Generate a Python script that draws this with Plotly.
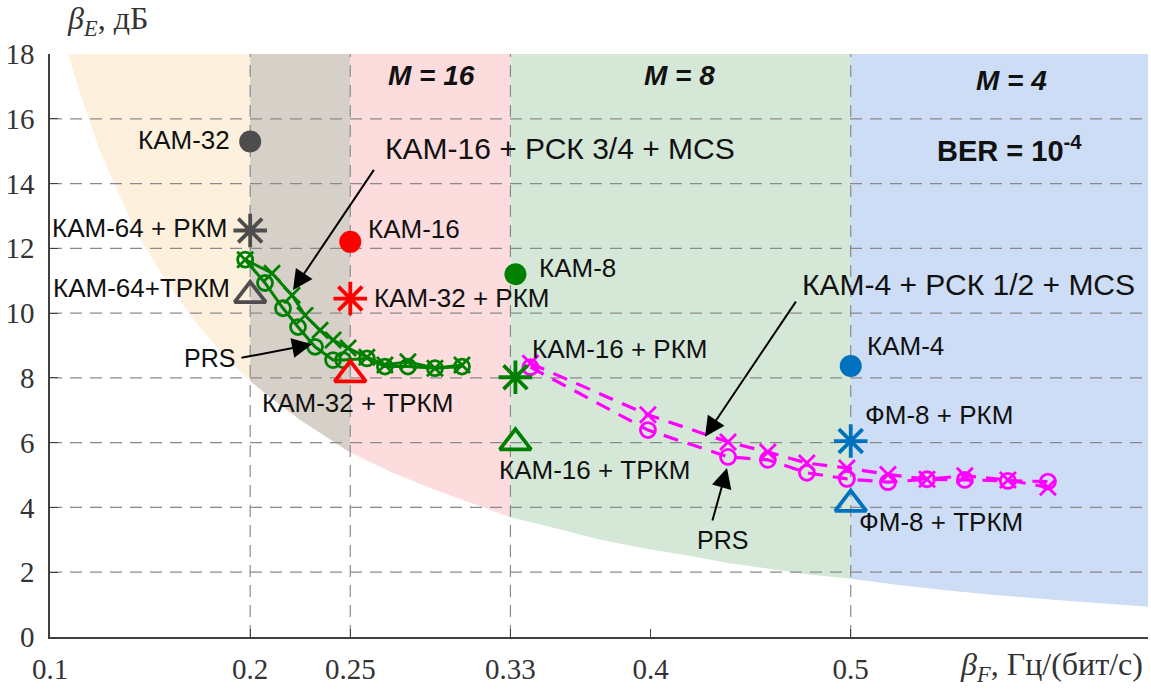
import plotly.graph_objects as go

# ---------------- data ----------------
# lower edge of the shaded area, beta_F vs beta_E (dB)
BOUND_X = [0.109, 0.11, 0.115, 0.12, 0.125, 0.13, 0.135, 0.14, 0.145, 0.15, 0.155, 0.16, 0.165, 0.17, 0.175,
           0.18, 0.185, 0.19, 0.195, 0.20, 0.21, 0.225, 0.24, 0.25, 0.27, 0.29, 0.31, 0.33, 0.35, 0.375,
           0.40, 0.42, 0.44, 0.46, 0.48, 0.50, 0.525, 0.55, 0.575, 0.60, 0.625, 0.65]
BOUND_Y = [18.0, 17.8, 16.8, 15.9, 15.0, 14.3, 13.6, 12.9, 12.3, 11.8, 11.3, 10.8, 10.4, 9.95, 9.55,
           9.2, 8.85, 8.5, 8.2, 7.9, 7.4, 6.7, 6.1, 5.7, 5.1, 4.6, 4.15, 3.7, 3.4, 3.0,
           2.7, 2.5, 2.27, 2.1, 1.92, 1.8, 1.6, 1.43, 1.28, 1.16, 1.04, 0.93]

REGION_EDGES = [0.109, 0.20, 0.25, 0.33, 0.50, 0.65]
REGION_COLORS = ["#fdf0dc", "#d6d0c8", "#fcdcdc", "#d5e8d8", "#ccddf5"]

# green curves (КАМ-16 + РСК 3/4 + MCS)
G_O_X = [0.1975, 0.2074, 0.2164, 0.2239, 0.2324, 0.2414, 0.2464, 0.2583, 0.2673, 0.2788, 0.2923, 0.3058]
G_O_Y = [11.65, 10.93, 10.15, 9.57, 8.96, 8.55, 8.55, 8.60, 8.35, 8.35, 8.30, 8.35]
G_X_X = [0.1975, 0.2109, 0.2209, 0.2274, 0.2349, 0.2414, 0.2489, 0.2583, 0.2673, 0.2788, 0.2923, 0.3058]
G_X_Y = [11.65, 11.23, 10.55, 9.93, 9.47, 9.17, 8.92, 8.64, 8.40, 8.50, 8.30, 8.40]

# magenta curves (КАМ-4 + РСК 1/2 + MCS)
M_X = [0.34, 0.3987, 0.4387, 0.4586, 0.4781, 0.4981, 0.5186, 0.5381, 0.557, 0.5785, 0.5985]
M_O_Y = [8.33, 6.39, 5.56, 5.47, 5.07, 4.88, 4.78, 4.87, 4.85, 4.82, 4.80]
M_X_Y = [8.45, 6.86, 6.02, 5.71, 5.37, 5.22, 5.02, 4.87, 4.98, 4.85, 4.62]

# single points: (x, y, colour, symbol, label, label-x, label-y, anchor)
POINTS = [
    (0.2, 15.3, "#4d4d4d", "circle", "КАМ-32", 0.1909, 15.33, "right"),
    (0.2, 12.55, "#4d4d4d", "asterisk-open", "КАМ-64 + РКМ", 0.1899, 12.62, "right"),
    (0.2, 10.55, "#4d4d4d", "triangle-up-open", "КАМ-64+ТРКМ", 0.1909, 10.77, "right"),
    (0.25, 12.2, "#ff0000", "circle", "КАМ-16", 0.2578, 12.59, "left"),
    (0.25, 10.45, "#ff0000", "asterisk-open", "КАМ-32 + РКМ", 0.2608, 10.46, "left"),
    (0.25, 8.1, "#ff0000", "triangle-up-open", "КАМ-32 + ТРКМ", 0.2049, 7.22, "left"),
    (0.3325, 11.2, "#008000", "circle", "КАМ-8", 0.3433, 11.38, "left"),
    (0.3325, 8.02, "#008000", "asterisk-open", "КАМ-16 + РКМ", 0.3398, 8.89, "left"),
    (0.3325, 6.0, "#008000", "triangle-up-open", "КАМ-16 + ТРКМ", 0.3233, 5.16, "left"),
    (0.5, 8.37, "#0072bd", "circle", "КАМ-4", 0.5071, 8.98, "left"),
    (0.5, 6.05, "#0072bd", "asterisk-open", "ФМ-8 + РКМ", 0.5061, 6.85, "left"),
    (0.5, 4.1, "#0072bd", "triangle-up-open", "ФМ-8 + ТРКМ", 0.5031, 3.55, "left"),
]

X_TICKS = [0.1, 0.2, 0.25, 0.33, 0.4, 0.5]
X_TICK_TEXT = ["0.1", "0.2", "0.25", "0.33", "0.4", "0.5"]
Y_TICKS = [0, 2, 4, 6, 8, 10, 12, 14, 16, 18]
Y_GRID = [2, 4, 6, 8, 10, 12, 14, 16]
X_GRID = [0.2, 0.25, 0.33, 0.5]

X_RANGE = [0.1, 0.6485]
Y_RANGE = [0, 18]

SANS = "Liberation Sans, Arial, sans-serif"
SERIF = "Liberation Serif, Times New Roman, serif"

fig = go.Figure()

# shaded regions
for i, col in enumerate(REGION_COLORS):
    a, b = REGION_EDGES[i], REGION_EDGES[i + 1]
    px = [x for x in BOUND_X if a <= x <= b]
    py = [y for x, y in zip(BOUND_X, BOUND_Y) if a <= x <= b]
    px = px + [b, a]
    py = py + [Y_RANGE[1], Y_RANGE[1]]
    fig.add_trace(go.Scatter(x=px, y=py, fill="toself", fillcolor=col, mode="lines",
                             line=dict(width=0, color=col),
                             hoverinfo="skip", showlegend=False))

# dashed grid lines
gx, gy = [], []
for y in Y_GRID:
    gx += [X_RANGE[0], X_RANGE[1], None]
    gy += [y, y, None]
for x in X_GRID:
    gx += [x, x, None]
    gy += [Y_RANGE[0], Y_RANGE[1], None]
fig.add_trace(go.Scatter(x=gx, y=gy, mode="lines", line=dict(color="#8a8a8a", width=1.2, dash="12px,8px"),
                         hoverinfo="skip", showlegend=False))

# green curves
fig.add_trace(go.Scatter(x=G_O_X, y=G_O_Y, mode="lines+markers",
                         line=dict(color="#008000", width=3),
                         marker=dict(symbol="circle-open", size=15, color="#008000", line=dict(width=2.8, color="#008000")),
                         showlegend=False))
fig.add_trace(go.Scatter(x=G_X_X, y=G_X_Y, mode="lines+markers",
                         line=dict(color="#008000", width=3),
                         marker=dict(symbol="x-thin-open", size=16, color="#008000", line=dict(width=2.8, color="#008000")),
                         showlegend=False))

# magenta curves
fig.add_trace(go.Scatter(x=M_X, y=M_O_Y, mode="lines+markers",
                         line=dict(color="#ff00ff", width=3.2, dash="15px,10px"),
                         marker=dict(symbol="circle-open", size=15, color="#ff00ff", line=dict(width=2.8, color="#ff00ff")),
                         showlegend=False))
fig.add_trace(go.Scatter(x=M_X, y=M_X_Y, mode="lines+markers",
                         line=dict(color="#ff00ff", width=3.2, dash="15px,10px"),
                         marker=dict(symbol="x-thin-open", size=16, color="#ff00ff", line=dict(width=2.8, color="#ff00ff")),
                         showlegend=False))

annotations = []
# single points
for (x, y, col, sym, lab, lx, ly, anc) in POINTS:
    if sym == "circle":
        mk = dict(symbol="circle", size=22, color=col)
    elif sym == "asterisk-open":
        mk = dict(symbol="asterisk-open", size=28, color=col, line=dict(width=3.8, color=col))
    else:
        mk = dict(symbol="triangle-up-open", size=27, color=col, line=dict(width=3.8, color=col))
    fig.add_trace(go.Scatter(x=[x], y=[y], mode="markers", marker=mk, showlegend=False))
    annotations.append(dict(x=lx, y=ly, xref="x", yref="y", text=lab, showarrow=False,
                            xanchor=anc, yanchor="middle", font=dict(family=SANS, size=26, color="#111")))

# region titles
for txt, x, y in [("<b><i>M = 16</i></b>", 0.2908, 17.33), ("<b><i>M = 8</i></b>", 0.4147, 17.33),
                  ("<b><i>M = 4</i></b>", 0.5805, 17.18)]:
    annotations.append(dict(x=x, y=y, xref="x", yref="y", text=txt, showarrow=False,
                            font=dict(family=SANS, size=28, color="#111")))
annotations.append(dict(x=0.5795, y=15.08, xref="x", yref="y", text="<b>BER = 10<sup>-4</sup></b>",
                        showarrow=False, font=dict(family=SANS, size=29, color="#111")))

# big labels
annotations.append(dict(x=0.2663, y=15.08, xref="x", yref="y", text="КАМ-16 + РСК 3/4 + MCS",
                        showarrow=False, xanchor="left", font=dict(family=SANS, size=30, color="#111")))
annotations.append(dict(x=0.4746, y=10.89, xref="x", yref="y", text="КАМ-4 + РСК 1/2 + MCS",
                        showarrow=False, xanchor="left", font=dict(family=SANS, size=30, color="#111")))
annotations.append(dict(x=0.1799, y=8.61, xref="x", yref="y", text="PRS", showarrow=False,
                        font=dict(family=SANS, size=25, color="#111")))
annotations.append(dict(x=0.4357, y=3.0, xref="x", yref="y", text="PRS", showarrow=False,
                        font=dict(family=SANS, size=25, color="#111")))

# arrows: (head x, head y, tail x, tail y)
for hx, hy, tx, ty in [(0.2214, 10.71, 0.2623, 14.47), (0.2309, 9.04, 0.1949, 8.61),
                       (0.4272, 6.18, 0.4731, 10.4), (0.4382, 5.22, 0.4307, 3.55)]:
    annotations.append(dict(x=hx, y=hy, ax=tx, ay=ty, xref="x", yref="y", axref="x", ayref="y",
                            text="", showarrow=True, arrowhead=2, arrowsize=2, arrowwidth=2,
                            arrowcolor="#000"))

# axis titles
annotations.append(dict(x=0.0137, y=1.058, xref="paper", yref="paper", xanchor="left", yanchor="middle",
                        text="<i>β</i><sub><i>E</i></sub>, дБ", showarrow=False,
                        font=dict(family=SERIF, size=32, color="#333")))
annotations.append(dict(x=0.997, y=-0.05, xref="paper", yref="paper", xanchor="right", yanchor="middle",
                        text="<i>β</i><sub><i>F</i></sub>, Гц/(бит/с)", showarrow=False,
                        font=dict(family=SERIF, size=32, color="#333")))

fig.update_layout(
    width=1151, height=693,
    margin=dict(l=50, r=3, t=54, b=56),
    paper_bgcolor="white", plot_bgcolor="white",
    showlegend=False,
    annotations=annotations,
    xaxis=dict(range=X_RANGE, tickvals=X_TICKS, ticktext=X_TICK_TEXT, showgrid=False, zeroline=False,
               showline=True, linecolor="#404040", linewidth=1.5, ticks="inside", ticklen=8,
               tickcolor="#404040", tickwidth=1.2, ticklabelstandoff=5,
               tickfont=dict(family=SERIF, size=29, color="#333")),
    yaxis=dict(range=Y_RANGE, tickvals=Y_TICKS, showgrid=False, zeroline=False,
               showline=True, linecolor="#404040", linewidth=1.5, ticks="inside", ticklen=8,
               tickcolor="#404040", tickwidth=1.2, ticklabelstandoff=8,
               tickfont=dict(family=SERIF, size=29, color="#333")),
)

fig.write_html("out.html")
